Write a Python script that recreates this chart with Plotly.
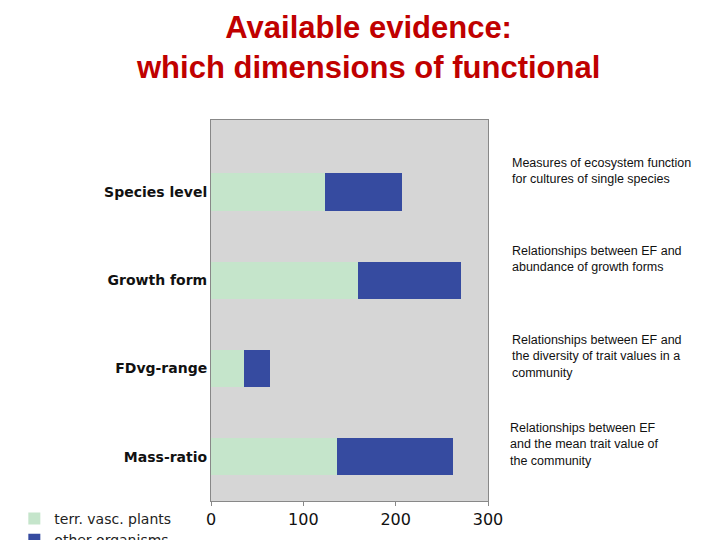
import plotly.graph_objects as go

categories = ["Species level", "Growth form", "FDvg-range", "Mass-ratio"]
terr = [123, 159, 36, 136]
other = [84, 112, 28, 126]
notes = [
    "Measures of ecosystem function<br>for cultures of single species",
    "Relationships between EF and<br>abundance of growth forms",
    "Relationships between EF and<br>the diversity of trait values in a<br>community",
    "Relationships between EF<br>and the mean trait value of<br>the community",
]

fig = go.Figure()
fig.add_bar(y=categories, x=terr, orientation="h", name="terr. vasc. plants",
            marker=dict(color="#c5e5cb", line=dict(width=0)), width=0.42)
fig.add_bar(y=categories, x=other, orientation="h", name="other organisms",
            marker=dict(color="#364ba0", line=dict(width=0)), width=0.42)

fig.update_layout(
    barmode="stack", width=720, height=540,
    margin=dict(l=203, r=240, t=112, b=47, pad=0, autoexpand=False),
    paper_bgcolor="white", plot_bgcolor="#d6d6d6",
    showlegend=True,
    legend=dict(x=-0.71, y=-0.005, xanchor="left", yanchor="top", traceorder="normal",
                font=dict(family="DejaVu Sans", size=14, color="#222"),
                bgcolor="rgba(0,0,0,0)", itemwidth=30),
    xaxis=dict(range=[0, 300], tickvals=[0, 100, 200, 300], showgrid=False,
               tickfont=dict(family="DejaVu Sans", size=16, color="#111"),
               ticks="outside", ticklen=4, tickcolor="#888", linecolor="#888",
               showline=True, mirror=True, zeroline=False),
    yaxis=dict(autorange="reversed", showgrid=False, ticks="", showline=True,
               linecolor="#888", mirror=True,
               tickfont=dict(family="DejaVu Sans", size=14, color="#111")),
    font=dict(family="Liberation Sans"),
)
fig.update_yaxes(ticktext=["<b>%s</b>" % c for c in categories], tickvals=categories)

fig.add_annotation(text="<b>Available evidence:<br>which dimensions of functional</b>",
                   xref="paper", yref="paper", x=0.567, y=1.0, yshift=112, yanchor="top",
                   showarrow=False, font=dict(family="Liberation Sans", size=31, color="#c00000"))

xs = [1.08, 1.08, 1.08, 1.072]
for i, n in enumerate(notes):
    fig.add_annotation(text=n, xref="paper", yref="y", x=xs[i], y=i - 0.43,
                       xanchor="left", yanchor="top", align="left", showarrow=False,
                       font=dict(family="Liberation Sans", size=12.5, color="#111"))

fig.write_html("out.html")
